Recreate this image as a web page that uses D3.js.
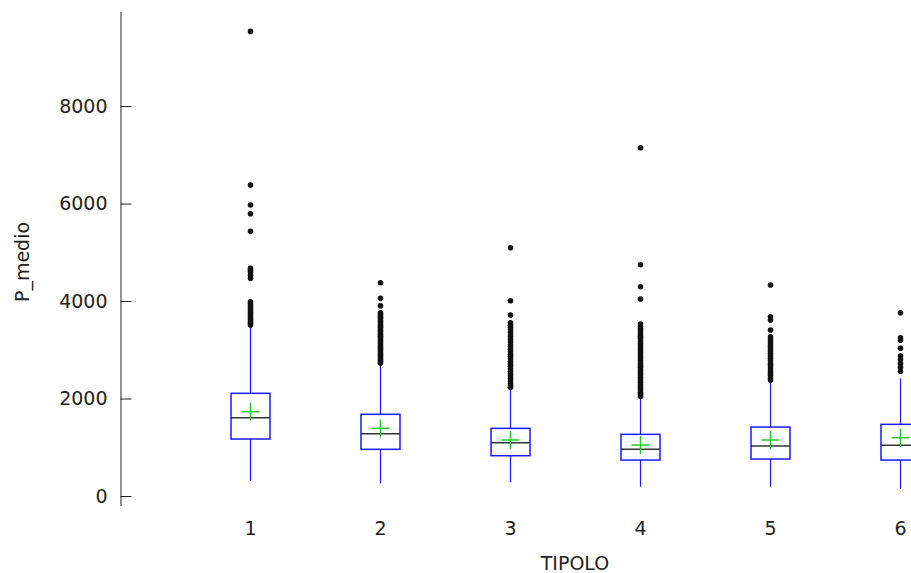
<!DOCTYPE html>
<html>
<head>
<meta charset="utf-8">
<script src="https://cdn.jsdelivr.net/npm/d3@7"></script>
<style>
  body { margin: 0; background: #fff; }
  svg { display: block; font-family: "DejaVu Sans", sans-serif; }
</style>
</head>
<body>
<script>
'use strict';

// box plot stats per TIPOLO category
const categories = ["1", "2", "3", "4", "5", "6"];
const whiskerLow = [308, 260, 281, 191, 191, 144];
const q1 = [1169, 958, 827, 738, 759, 738];
const medians = [1606, 1278, 1094, 958, 1026, 1040];
const q3 = [2107, 1676, 1388, 1265, 1415, 1470];
const whiskerHigh = [3487, 2708, 2200, 2010, 2330, 2414];
const means = [1729, 1389, 1149, 1046, 1149, 1196];

// outliers per category
const outliers1 = [9532, 6379, 5969, 5791, 5430, 4671, 4630, 4595, 4530, 4466,
  3986, 3945, 3900, 3862, 3820, 3775, 3740, 3700, 3655, 3620, 3580, 3545, 3510];
const outliers2 = [4375, 4055, 3903, 3760, 3725, 3680, 3645, 3600, 3565, 3520, 3480,
  3445, 3400, 3365, 3320, 3280, 3245, 3200, 3160, 3125, 3080, 3040, 3005, 2960,
  2920, 2885, 2840, 2800, 2765, 2730];
const outliers3 = [5093, 4006, 3713, 3555, 3505, 3455, 3410, 3360, 3305, 3260, 3210,
  3160, 3105, 3060, 3010, 2960, 2905, 2860, 2810, 2760, 2705, 2660, 2610, 2560,
  2505, 2460, 2410, 2360, 2305, 2260, 2230];
const outliers4 = [7145, 4745, 4293, 4041, 3528, 3480, 3430, 3385, 3330, 3280, 3235,
  3180, 3130, 3085, 3030, 2980, 2935, 2880, 2830, 2785, 2730, 2680, 2635, 2580,
  2530, 2485, 2430, 2380, 2335, 2280, 2230, 2185, 2130, 2085, 2040];
const outliers5 = [4328, 3678, 3610, 3405, 3268, 3220, 3170, 3125, 3075, 3020, 2975,
  2925, 2870, 2825, 2775, 2720, 2675, 2625, 2570, 2525, 2475, 2420, 2380];
const outliers6 = [3760, 3245, 3195, 3030, 2870, 2800, 2720, 2640, 2560];
const outliers = [outliers1, outliers2, outliers3, outliers4, outliers5, outliers6];

const yTicks = [0, 2000, 4000, 6000, 8000];

(function() {

  let svgContainer = "";
  let fontName = '"DejaVu Sans", sans-serif';

  window.onload = function() {
    svgContainer = d3.select('body')
      .append('svg')
      .attr('width', 911)
      .attr('height', 573);

    let scales = drawAxes();
    plotBoxes(scales);
    makeLabels();
  }

  // axes: y on the left with inward ticks, x with labels only
  function drawAxes() {
    let yScale = d3.scaleLinear()
      .domain([-205, 9930])
      .range([506, 12]);

    let xScale = d3.scalePoint()
      .domain(categories)
      .range([250, 900]);

    let yAxis = d3.axisLeft(yScale)
      .tickValues(yTicks)
      .tickFormat(d3.format('d'))
      .tickSize(-11)
      .tickPadding(13);

    let gy = svgContainer.append('g')
      .attr('transform', 'translate(120.5, 0)')
      .call(yAxis)
      .attr('font-family', fontName)
      .attr('font-size', 19);
    gy.select('.domain')
      .attr('d', 'M0.5,' + yScale.range()[0] + 'V' + yScale.range()[1])
      .style('stroke', '#222');
    gy.selectAll('.tick line').style('stroke', '#222');
    gy.selectAll('text').style('fill', '#222');

    let xAxis = d3.axisBottom(xScale)
      .tickSize(0)
      .tickPadding(0);

    let gx = svgContainer.append('g')
      .attr('transform', 'translate(0, 521)')
      .call(xAxis)
      .attr('font-family', fontName)
      .attr('font-size', 19);
    gx.select('.domain').remove();
    gx.selectAll('text').style('fill', '#222');

    return { x: xScale, y: yScale };
  }

  function plotBoxes(scales) {
    let x = scales.x;
    let y = scales.y;
    let boxWidth = 39;
    let blue = '#1a1aff';

    let rows = categories.map((c, i) => ({
      cat: c,
      lo: whiskerLow[i],
      q1: q1[i],
      med: medians[i],
      q3: q3[i],
      hi: whiskerHigh[i],
      mean: means[i],
      out: outliers[i]
    }));

    let g = svgContainer.selectAll('.box')
      .data(rows)
      .enter()
      .append('g')
      .attr('class', 'box')
      .attr('transform', d => 'translate(' + (x(d.cat) + 0.5) + ',0)');

    // whiskers
    g.append('line')
      .attr('x1', 0).attr('x2', 0)
      .attr('y1', d => y(d.q3)).attr('y2', d => y(d.hi))
      .style('stroke', blue).style('stroke-width', 1.2);
    g.append('line')
      .attr('x1', 0).attr('x2', 0)
      .attr('y1', d => y(d.q1)).attr('y2', d => y(d.lo))
      .style('stroke', blue).style('stroke-width', 1.2);

    // box
    g.append('rect')
      .attr('x', -boxWidth / 2)
      .attr('y', d => y(d.q3))
      .attr('width', boxWidth)
      .attr('height', d => y(d.q1) - y(d.q3))
      .style('fill', 'white')
      .style('stroke', blue)
      .style('stroke-width', 1.5);

    // median
    g.append('line')
      .attr('x1', -boxWidth / 2).attr('x2', boxWidth / 2)
      .attr('y1', d => y(d.med)).attr('y2', d => y(d.med))
      .style('stroke', '#333').style('stroke-width', 1.5);

    // mean cross
    g.append('line')
      .attr('x1', -9).attr('x2', 9)
      .attr('y1', d => y(d.mean)).attr('y2', d => y(d.mean))
      .style('stroke', '#22cc22').style('stroke-width', 1.5);
    g.append('line')
      .attr('x1', 0).attr('x2', 0)
      .attr('y1', d => y(d.mean) - 9).attr('y2', d => y(d.mean) + 9)
      .style('stroke', '#22cc22').style('stroke-width', 1.5);

    // outliers
    g.selectAll('circle')
      .data(d => d.out)
      .enter()
      .append('circle')
      .attr('cx', 0)
      .attr('cy', v => y(v))
      .attr('r', 2.8)
      .style('fill', '#111');
  }

  function makeLabels() {
    svgContainer.append('text')
      .attr('x', 575)
      .attr('y', 570)
      .attr('text-anchor', 'middle')
      .style('font-size', '19px')
      .style('fill', '#222')
      .text('TIPOLO');

    svgContainer.append('text')
      .attr('transform', 'translate(29, 262)rotate(-90)')
      .attr('text-anchor', 'middle')
      .style('font-size', '19px')
      .style('fill', '#222')
      .text('P_medio');
  }
})();
</script>
</body>
</html>
